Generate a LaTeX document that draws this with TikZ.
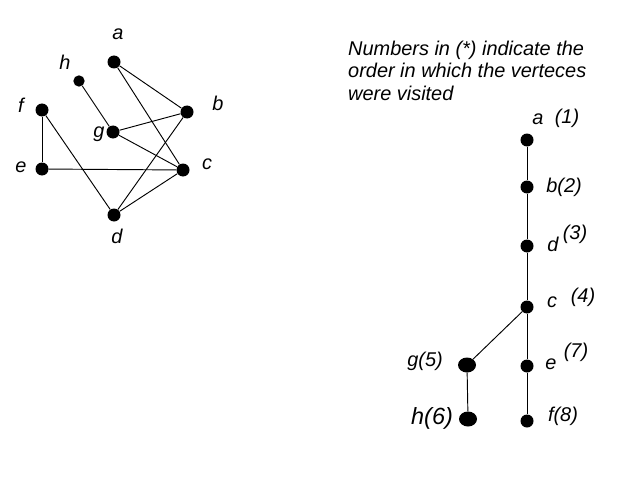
\documentclass[tikz,border=0pt]{standalone}
\usepackage{fontspec}
\setmainfont{Liberation Sans}
\usepackage{xcolor}
\usepackage{tikz}

\tikzset{
	dot/.style={circle, fill=black, inner sep=0pt, minimum size=0.39cm},
	bigdot/.style={ellipse, fill=black, inner sep=0pt, minimum width=0.54cm, minimum height=0.45cm},
	lbl/.style={inner sep=0pt, font=\fontsize{17}{19}\selectfont\itshape},
	biglbl/.style={inner sep=0pt, font=\fontsize{20}{22}\selectfont\itshape},
	edge/.style={black, line width=0.8pt}
}
\usetikzlibrary{shapes.geometric}

\begin{document}
\begin{tikzpicture}[x=0.03cm, y=-0.03cm]
	\useasboundingbox (0,0) rectangle (627,480);

	% the graph
	\node[dot] (a) at (114,62) {};
	\node[dot, minimum size=0.34cm] (h) at (79,81) {};
	\node[dot] (f) at (42,110) {};
	\node[dot] (b) at (187,112) {};
	\node[dot] (g) at (113,132) {};
	\node[dot] (e) at (42,169) {};
	\node[dot] (c) at (183,170) {};
	\node[dot] (d) at (114,215) {};
	\node[lbl] (la) at (118,34) {a};
	\node[lbl] (lh) at (65,62) {h};
	\node[lbl] (lf) at (21,105) {f};
	\node[lbl] (lb) at (218,103) {b};
	\node[lbl] (lg) at (99,134) {g};
	\node[lbl] (le) at (21,167) {e};
	\node[lbl] (lc) at (207,164) {c};
	\node[lbl] (ld) at (117,236) {d};
	\draw[edge] (a) -- (b);
	\draw[edge] (a) -- (c);
	\draw[edge] (h) -- (g);
	\draw[edge] (g) -- (b);
	\draw[edge] (g) -- (c);
	\draw[edge] (f) -- (e);
	\draw[edge] (f) -- (d);
	\draw[edge] (e) -- (c);
	\draw[edge] (b) -- (d);
	\draw[edge] (c) -- (d);

	% the note
	\node[lbl, align=left, anchor=north west] (note) at (348,41)
		{Numbers in (*) indicate the\\order in which the verteces\\were visited};

	% the search tree
	\node[dot] (ta) at (527,140) {};
	\node[dot] (tb) at (527,187) {};
	\node[dot] (td) at (527,246) {};
	\node[dot] (tc) at (527,307) {};
	\node[bigdot] (tg) at (467,365) {};
	\node[dot] (te) at (527,366) {};
	\node[bigdot] (th) at (468,419) {};
	\node[dot] (tf) at (527,421) {};
	\node[lbl] (lta) at (538,119) {a};
	\node[lbl] (nta) at (567,118) {(1)};
	\node[lbl] (ltb) at (564,187) {b(2)};
	\node[lbl] (ltd) at (553,244) {d};
	\node[lbl] (ntd) at (575,234) {(3)};
	\node[lbl] (ltc) at (552,302) {c};
	\node[lbl] (ntc) at (583,297) {(4)};
	\node[lbl] (ltg) at (425,361) {g(5)};
	\node[lbl] (lte) at (551,364) {e};
	\node[lbl] (nte) at (576,352) {(7)};
	\node[biglbl] (lth) at (432,418) {h(6)};
	\node[lbl] (ltf) at (563,416) {f(8)};
	\draw[edge] (ta) -- (tb);
	\draw[edge] (tb) -- (td);
	\draw[edge] (td) -- (tc);
	\draw[edge] (tc) -- (tg);
	\draw[edge] (tg) -- (th);
	\draw[edge] (tc) -- (te);
	\draw[edge] (te) -- (tf);
\end{tikzpicture}
\end{document}
